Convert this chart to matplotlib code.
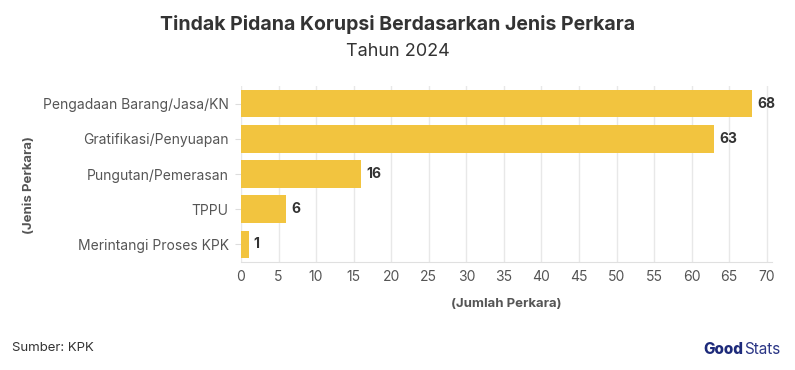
import matplotlib
matplotlib.use("Agg")
import matplotlib.pyplot as plt

categories = ["Pengadaan Barang/Jasa/KN", "Gratifikasi/Penyuapan", "Pungutan/Pemerasan", "TPPU", "Merintangi Proses KPK"]
values = [68, 63, 16, 6, 1]
xticks = list(range(0, 75, 5))

plt.rcParams['font.family'] = ['Inter', 'DejaVu Sans']

fig = plt.figure(figsize=(7.95, 3.70), dpi=100)
ax = fig.add_axes([241/795, 1-262/370, (772-241)/795, (262-86)/370])

bar_color = "#F2C43F"
ypos = list(range(len(categories)))
ax.barh(ypos, values, height=0.78, color=bar_color, zorder=3)
ax.set_ylim(len(categories)-0.5, -0.5)
ax.set_xlim(0, 70.7)
ax.set_yticks(ypos)
ax.set_yticklabels(categories, fontsize=10, color="#555555")
ax.set_xticks(xticks)
ax.set_xticklabels([str(t) for t in xticks], fontsize=10, color="#555555")
ax.tick_params(axis='y', length=4, color="#dddddd", pad=5)
ax.tick_params(axis='x', length=0, pad=6)
ax.grid(axis='x', color="#e8e8e8", linewidth=1, zorder=0)
for s in ["top", "right", "left"]:
    ax.spines[s].set_visible(False)
ax.spines["bottom"].set_color("#e0e0e0")

for y, v in zip(ypos, values):
    ax.text(v + 0.7, y, str(v), va="center", ha="left", fontsize=10, fontweight="bold", color="#333333")

ax.set_xlabel("(Jumlah Perkara)", fontsize=9.5, fontweight="bold", color="#555555", labelpad=10)
fig.text(0.037, 1-185/370, "(Jenis Perkara)", rotation=90, fontsize=9.5, fontweight="bold", color="#555555", ha="center", va="center")

fig.text(0.5, 1-24/370, "Tindak Pidana Korupsi Berdasarkan Jenis Perkara", ha="center", va="center",
         fontsize=14, fontweight="bold", color="#333333")
fig.text(0.5, 1-52/370, "Tahun 2024", ha="center", va="center", fontsize=13, color="#333333")

fig.text(12/795, 1-348/370, "Sumber: KPK", ha="left", va="center", fontsize=9.5, color="#333333")
fig.text(743/795, 1-350/370, "Good", ha="right", va="center", fontsize=11, fontweight="heavy", color="#1d2a7a")
fig.text(744/795, 1-350/370, "Stats", ha="left", va="center", fontsize=11, color="#2a3585")

fig.savefig("out.png", dpi=100)
